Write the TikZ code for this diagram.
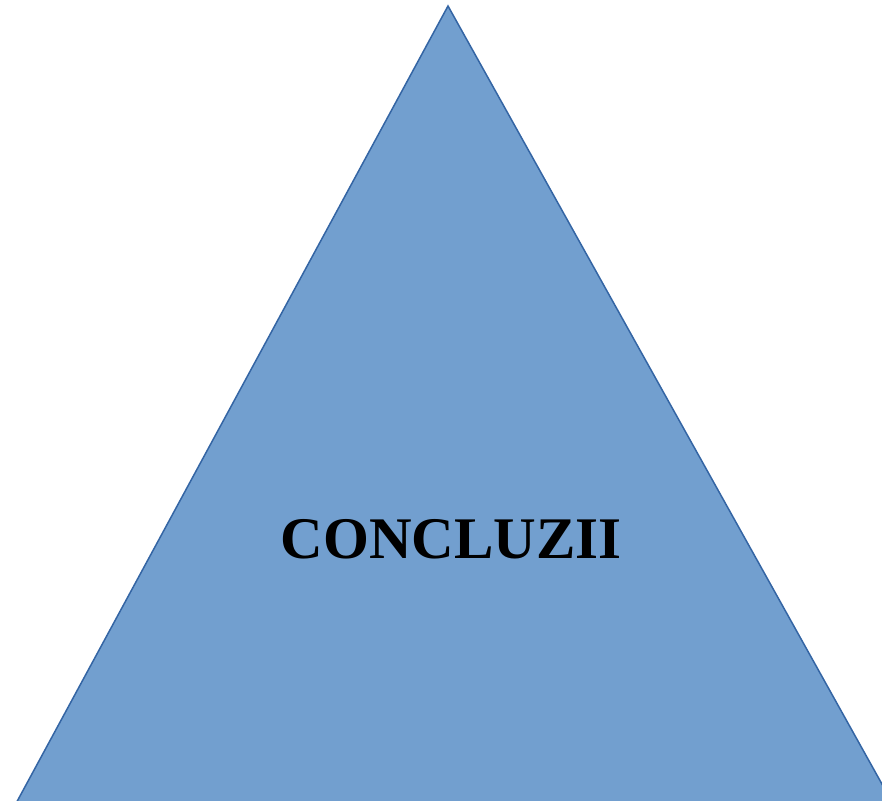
\documentclass[tikz,border=0pt]{standalone}
\usepackage{fontspec}
\setmainfont{Liberation Serif}
\definecolor{trifill}{HTML}{729FCF}
\definecolor{triline}{HTML}{3465A4}
\tikzset{tri/.style={fill=trifill,draw=triline,line width=1.5pt,line join=miter}}
\begin{document}
\begin{tikzpicture}[x=1pt,y=1pt]
\useasboundingbox (0,0) rectangle (882,800);
\clip (0,0) rectangle (882,800);
\coordinate (apex) at (448,794);
\coordinate (bl) at (7,-20);
\coordinate (br) at (902,-20);
\draw[tri] (apex) -- (br) -- (bl) -- cycle;
\node[font=\fontsize{59}{66}\selectfont\bfseries, inner sep=0pt] (t) at (451,261) {CONCLUZII};
\end{tikzpicture}
\end{document}
